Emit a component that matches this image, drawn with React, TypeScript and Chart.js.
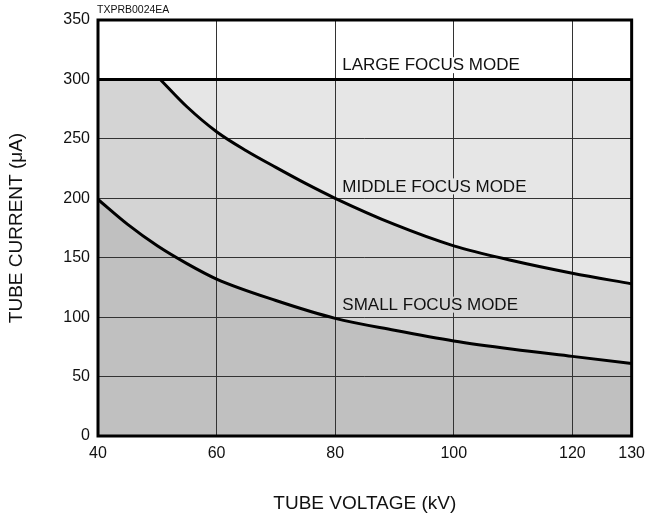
import React, { useEffect, useRef } from "react";
import { Chart, registerables } from "chart.js";

Chart.register(...registerables);

const FONT = "'Liberation Sans', Arial, Helvetica, sans-serif";

// Tick labels on the voltage axis
const xTicks = [40, 60, 80, 100, 120, 130];

// SMALL FOCUS MODE limit curve
const smallV = [40, 45, 50, 55, 60, 70, 80, 90, 100, 110, 120, 130];
const smallI = [199, 178, 160, 145, 132, 114, 99, 89, 80, 73, 67, 61];

// MIDDLE FOCUS MODE limit curve (below the 300 µA cap)
const middleV = [50.5, 55, 60, 65, 70, 75, 80, 90, 100, 110, 120, 130];
const middleI = [300, 277, 256, 240, 226, 212.5, 200, 178, 160, 147.5, 137, 128];

// MIDDLE FOCUS MODE capped part (at 300 µA)
const middleCapV = [40, 50.8];
const middleCapI = [300, 300];

// LARGE FOCUS MODE limit
const largeV = [40, 130];
const largeI = [300, 300];

// Region labels
const modeLabels = ["LARGE FOCUS MODE", "MIDDLE FOCUS MODE", "SMALL FOCUS MODE"];
const labelV = [81.2, 81.2, 81.2];
const labelI = [312, 210, 110.5];

const COLORS = {
  small: "#c0c0c0",
  middle: "#d4d4d4",
  large: "#e6e6e6",
  grid: "#333333",
  text: "#111111",
};
const labelBg = ["#ffffff", COLORS.large, COLORS.middle];

export default function App() {
  const ref = useRef<HTMLCanvasElement>(null);

  useEffect(() => {
    document.body.style.margin = "0";
    const canvas = ref.current;
    if (!canvas) return;
    const pts = (xs: number[], ys: number[]) => xs.map((x, i) => ({ x, y: ys[i] }));

    const decor = {
      id: "decor",
      afterDatasetsDraw(chart: any) {
        const { ctx, chartArea: a, scales } = chart;
        ctx.save();
        ctx.font = `17px ${FONT}`;
        ctx.textBaseline = "middle";
        ctx.textAlign = "left";
        modeLabels.forEach((t, i) => {
          const x = scales.x.getPixelForValue(labelV[i]);
          const y = scales.y.getPixelForValue(labelI[i]);
          const w = ctx.measureText(t).width;
          ctx.fillStyle = labelBg[i];
          ctx.fillRect(x - 1, y - 8, w + 2, 16);
          ctx.fillStyle = COLORS.text;
          ctx.fillText(t, x, y + 0.5);
        });
        ctx.strokeStyle = "#000";
        ctx.lineWidth = 3;
        ctx.strokeRect(a.left, a.top, a.right - a.left, a.bottom - a.top);
        ctx.font = `10.5px ${FONT}`;
        ctx.fillStyle = COLORS.text;
        ctx.textBaseline = "middle";
        ctx.fillText("TXPRB0024EA", a.left - 1, a.top - 10);
        ctx.restore();
      },
    };

    const chart = new Chart(canvas, {
      type: "line",
      data: {
        datasets: [
          {
            data: pts(smallV, smallI),
            borderColor: "#000",
            borderWidth: 3,
            backgroundColor: COLORS.small,
            fill: "origin",
            pointRadius: 0,
            cubicInterpolationMode: "monotone",
          },
          {
            data: pts(middleV, middleI),
            borderColor: "#000",
            borderWidth: 3,
            backgroundColor: COLORS.middle,
            fill: "origin",
            pointRadius: 0,
            cubicInterpolationMode: "monotone",
          },
          {
            data: pts(middleCapV, middleCapI),
            borderColor: "#000",
            borderWidth: 0,
            backgroundColor: COLORS.middle,
            fill: "origin",
            pointRadius: 0,
          },
          {
            data: pts(largeV, largeI),
            borderColor: "#000",
            borderWidth: 3,
            backgroundColor: COLORS.large,
            fill: "origin",
            pointRadius: 0,
          },
        ],
      },
      options: {
        animation: false,
        responsive: false,
        devicePixelRatio: 1,
        layout: { padding: { top: 20, right: 16, left: 0, bottom: 0 } },
        plugins: {
          legend: { display: false },
          tooltip: { enabled: false },
          filler: { drawTime: "beforeDraw" },
        } as any,
        scales: {
          x: {
            type: "linear",
            min: 40,
            max: 130,
            afterBuildTicks: (s: any) => {
              s.ticks = xTicks.map((v) => ({ value: v }));
            },
            afterFit: (s: any) => {
              s.height = 83;
            },
            grid: { color: COLORS.grid, lineWidth: 1, drawTicks: false },
            border: { display: false },
            ticks: {
              autoSkip: false,
              maxRotation: 0,
              padding: 8,
              color: COLORS.text,
              font: { family: FONT, size: 16 },
            },
            title: {
              display: true,
              text: "TUBE VOLTAGE (kV)",
              color: COLORS.text,
              font: { family: FONT, size: 19 },
              padding: { top: 0, bottom: 4 },
            },
          },
          y: {
            type: "linear",
            min: 0,
            max: 350,
            afterFit: (s: any) => {
              s.width = 98;
            },
            grid: { color: COLORS.grid, lineWidth: 1, drawTicks: false },
            border: { display: false },
            ticks: {
              stepSize: 50,
              padding: 8,
              color: COLORS.text,
              font: { family: FONT, size: 16 },
            },
            title: {
              display: true,
              text: "TUBE CURRENT (μA)",
              color: COLORS.text,
              font: { family: FONT, size: 19 },
              padding: { top: 5.5, bottom: 0 },
            },
          },
        },
      },
      plugins: [decor],
    });

    return () => chart.destroy();
  }, []);

  return (
    <div style={{ width: 653, height: 519 }}>
      <canvas ref={ref} width={653} height={519} style={{ display: "block" }} />
    </div>
  );
}
